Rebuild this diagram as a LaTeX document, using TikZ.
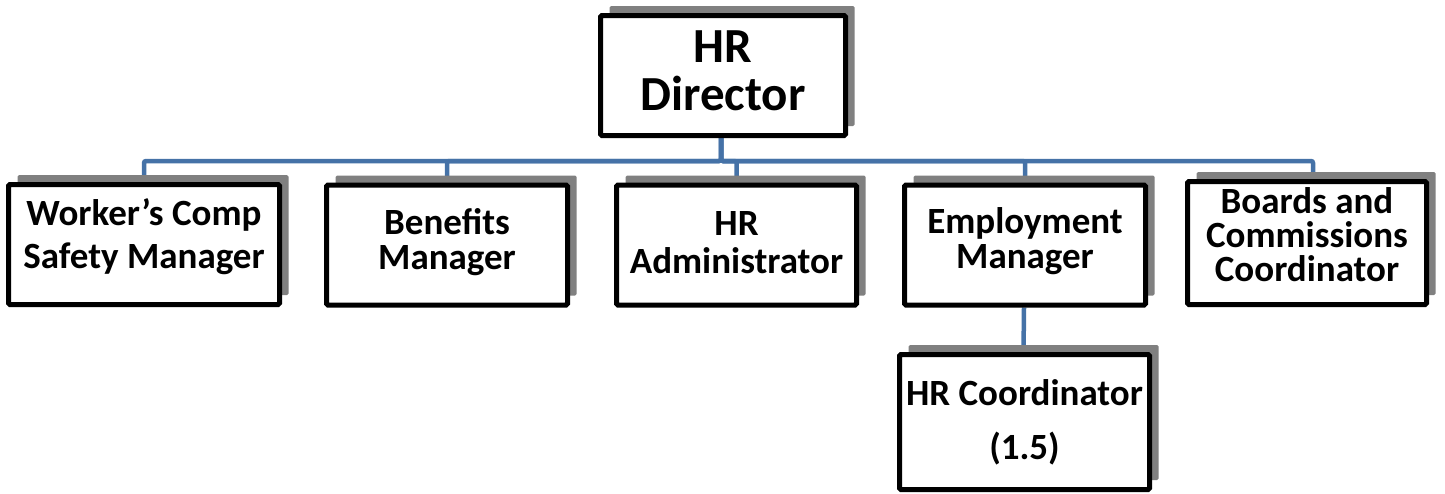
\documentclass[tikz,border=0pt]{standalone}
\usepackage{fontspec}
\setmainfont{Carlito}
\usetikzlibrary{shadows, backgrounds}

\definecolor{linkblue}{RGB}{69,114,167}

\begin{document}
\begin{tikzpicture}[x=1pt, y=-1pt,
    poste/.style={draw=black, line width=5pt, fill=white, rounded corners=1.5pt,
                  inner sep=0pt, align=center, minimum height=120pt,
                  general shadow={fill=black!50, draw=none, rounded corners=2.5pt,
                                  shadow xshift=9pt, shadow yshift=9.5pt}},
    lead/.style={font=\fontsize{37}{#1}\selectfont\bfseries},
    link/.style={draw=linkblue, line width=4.5pt, rounded corners=2pt}]

  % --- Cadre de la page ---
  \useasboundingbox (0,0) rectangle (1445,493);

  % --- Direction ---
  \node[poste, minimum width=245pt, font=\fontsize{49}{48}\selectfont\bfseries,
        text depth=9pt]
    (hrdir) at (723,75.5) {HR\\Director};

  % --- Postes rattachés (text depth = calage vertical du texte) ---
  \node[poste, lead=43, minimum width=271pt, text depth=21pt] (wcomp) at (144,244.5)
    {Worker’s Comp\\Safety Manager};
  \node[poste, lead=35, minimum width=241pt, text depth=12pt] (benef) at (447,245)
    {Benefits\\Manager};
  \node[poste, lead=38, minimum width=240pt, text depth=5pt]  (hradm) at (736.5,245)
    {HR\\Administrator};
  \node[poste, lead=35, minimum width=241pt, text depth=14pt] (emplm) at (1025,245)
    {Employment\\Manager};
  \node[poste, lead=34, minimum width=239pt, minimum height=123pt, text depth=17pt]
    (boards) at (1307,243) {Boards and\\Commissions\\Coordinator};

  % --- Sous le responsable emploi ---
  \node[poste, lead=54, minimum width=250pt, minimum height=135pt, text depth=5pt]
    (hrcoord) at (1024.5,422) {HR Coordinator\\(1.5)};

  % --- Liaisons ---
  \coordinate (bus) at (721,161);
  \begin{scope}[on background layer]
    \foreach \n in {wcomp, benef, hradm, emplm}
      \draw[link] ([xshift=-2pt]hrdir.south) |- (bus -| \n.north) -- (\n.north);
    \draw[link] ([xshift=-2pt]hrdir.south) |- (bus -| boards.north)
      -| ([xshift=6pt]boards.north);
    \draw[link] ([xshift=-1pt]emplm.south) -- ([xshift=-1pt]hrcoord.north);
  \end{scope}

\end{tikzpicture}
\end{document}
